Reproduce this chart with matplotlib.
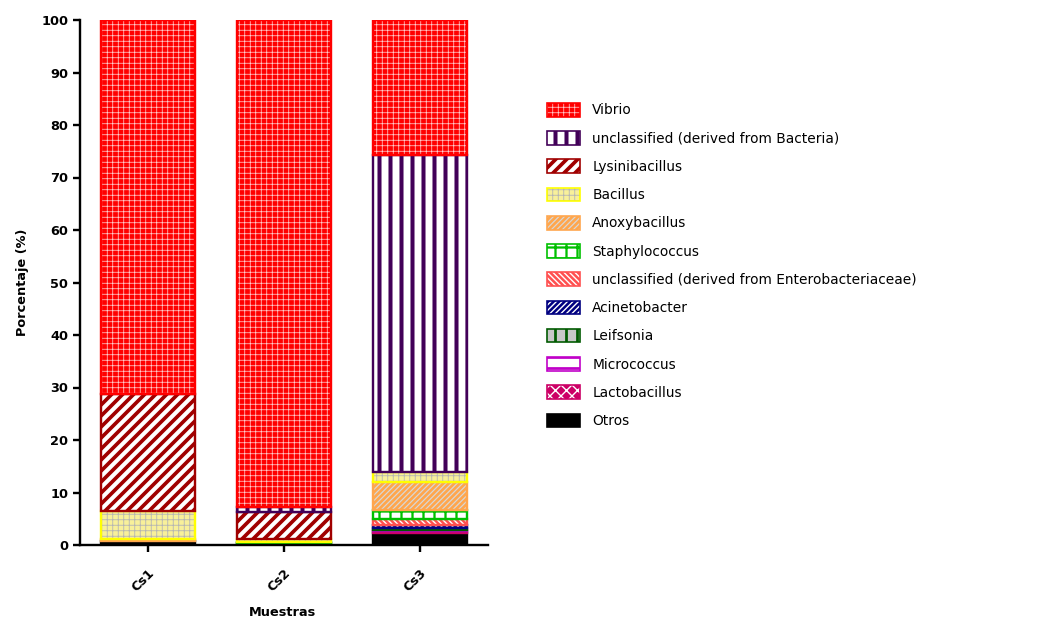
import numpy as np
import matplotlib
matplotlib.use("Agg")
import matplotlib.pyplot as plt
from matplotlib.patches import Patch
from matplotlib.legend_handler import HandlerTuple, HandlerPatch

# relative abundance (%) per sample, stacked bottom -> top
samples = ["Cs1", "Cs2", "Cs3"]

otros = [0.8, 0.3, 2.35]
lactobacillus = [0.0, 0.0, 0.4]
micrococcus = [0.0, 0.0, 0.2]
leifsonia = [0.0, 0.0, 0.2]
acinetobacter = [0.0, 0.0, 0.7]
uncl_entero = [0.0, 0.0, 1.1]
staphylococcus = [0.0, 0.3, 1.7]
anoxybacillus = [0.3, 0.0, 5.3]
bacillus = [5.4, 0.6, 2.0]
lysinibacillus = [22.3, 5.0, 0.0]
uncl_bacteria = [0.0, 1.0, 60.4]
vibrio = [71.2, 92.8, 25.65]

labels = [
    "Otros", "Lactobacillus", "Micrococcus", "Leifsonia", "Acinetobacter",
    "unclassified (derived from Enterobacteriaceae)", "Staphylococcus",
    "Anoxybacillus", "Bacillus", "Lysinibacillus",
    "unclassified (derived from Bacteria)", "Vibrio",
]
series = [otros, lactobacillus, micrococcus, leifsonia, acinetobacter,
          uncl_entero, staphylococcus, anoxybacillus, bacillus,
          lysinibacillus, uncl_bacteria, vibrio]

# (border, fill, hatch, hatch colour, hatch linewidth)
styles = [
    ("#000000", "#000000", None, None, 0),
    ("#cc0066", "#cc0066", "xx", "#ffffff", 1.5),
    ("#c000c8", "#ffffff", "-", "#c000c8", 3.0),
    ("#005a00", "#c8c8c8", "|", "#005a00", 3.0),
    ("#000080", "#000080", "////", "#ffffff", 1.5),
    ("#ff5050", "#ff5050", "\\\\\\\\", "#ffffff", 1.5),
    ("#00c000", "#ffffff", "+", "#00c000", 2.5),
    ("#ffa64d", "#ffa64d", "////", "#d8d8d8", 1.3),
    ("#ffff00", "#f8f09a", "++", "#b4b4b4", 0.9),
    ("#a00000", "#ffffff", "//", "#a00000", 4.0),
    ("#420058", "#ffffff", "|", "#420058", 4.4),
    ("#ff0000", "#ff0000", "++", "#ffd0d0", 0.8),
]

DPI = 66
W, H = 1061, 622
BAR_W = 0.69
EDGE_LW = 2.6

plt.rcParams["font.family"] = ["DejaVu Sans"]

fig = plt.figure(figsize=(W / DPI, H / DPI), dpi=DPI)
ax = fig.add_axes([80 / W, 1 - 545 / H, 408 / W, 525 / H])

x = np.arange(len(samples))
bottom = np.zeros(len(samples))


def set_hatch_lw(patch, lw):
    if hasattr(patch, "set_hatch_linewidth"):
        patch.set_hatch_linewidth(lw)


def draw_layer(vals, bottoms, style):
    border, fill, hatch, hcolor, hlw = style
    keep = vals > 0
    xs, hs, bs = x[keep], vals[keep], bottoms[keep]
    ax.bar(xs, hs, BAR_W, bottom=bs, color=fill, linewidth=0)
    if hatch:
        with plt.rc_context({"hatch.linewidth": hlw}):
            bars = ax.bar(xs, hs, BAR_W, bottom=bs, facecolor="none",
                          edgecolor=hcolor, linewidth=0, hatch=hatch)
        for b in bars:
            set_hatch_lw(b, hlw)
    ax.bar(xs, hs, BAR_W, bottom=bs, facecolor="none",
           edgecolor=border, linewidth=EDGE_LW)


handles = []
for vals, style in zip(series, styles):
    vals = np.asarray(vals, dtype=float)
    draw_layer(vals, bottom, style)
    bottom = bottom + vals

    border, fill, hatch, hcolor, hlw = style
    parts = [Patch(facecolor=fill, linewidth=0)]
    if hatch:
        with plt.rc_context({"hatch.linewidth": hlw}):
            hp = Patch(facecolor="none", edgecolor=hcolor, linewidth=0, hatch=hatch)
        set_hatch_lw(hp, hlw)
        parts.append(hp)
    parts.append(Patch(facecolor="none", edgecolor=border, linewidth=1.8))
    handles.append(tuple(parts))

ax.set_xlim(-0.5, 2.5)
ax.set_ylim(0, 100)
ax.set_yticks(np.arange(0, 101, 10))
ax.set_xticks(x)
ax.set_xticklabels(samples, rotation=45, ha="right", va="top",
                   rotation_mode="anchor", fontweight="bold", fontsize=14)
for lab in ax.get_yticklabels():
    lab.set_fontweight("bold")
ax.tick_params(axis="both", direction="out", length=8, width=2.6,
               labelsize=14)
ax.tick_params(axis="x", pad=15)
ax.tick_params(axis="y", pad=5)

for side in ("top", "right"):
    ax.spines[side].set_visible(False)
for side in ("left", "bottom"):
    ax.spines[side].set_linewidth(2.6)

ax.set_ylabel("Porcentaje (%)", fontsize=14, fontweight="bold")
ax.yaxis.set_label_coords(-0.125, 0.5)
ax.set_xlabel("Muestras", fontsize=14, fontweight="bold", va="top")
ax.xaxis.set_label_coords(0.4975, -0.116)


def copy_patch_style(legend_patch, orig_patch):
    legend_patch.update_from(orig_patch)
    if hasattr(orig_patch, "get_hatch_linewidth"):
        set_hatch_lw(legend_patch, orig_patch.get_hatch_linewidth())


fig.legend(handles[::-1], labels[::-1],
           handler_map={tuple: HandlerTuple(ndivide=1, pad=0),
                        Patch: HandlerPatch(update_func=copy_patch_style)},
           loc="upper left", bbox_to_anchor=(547 / W, 1 - 103 / H),
           bbox_transform=fig.transFigure, frameon=False,
           borderpad=0, borderaxespad=0, fontsize=15,
           handlelength=2.4, handleheight=1.15, handletextpad=0.9,
           labelspacing=1.0)

fig.savefig("out.png", dpi=DPI)
